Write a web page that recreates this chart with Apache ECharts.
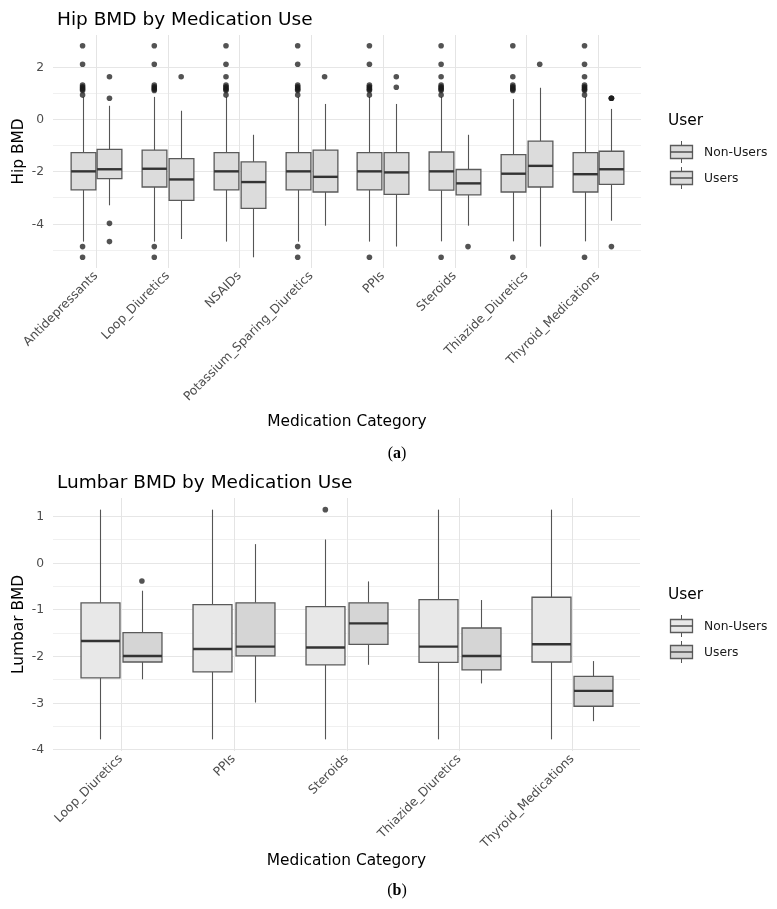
<!DOCTYPE html>
<html>
<head>
<meta charset="utf-8">
<script src="https://cdn.jsdelivr.net/npm/echarts@6/dist/echarts.min.js"></script>
<style>
html,body{margin:0;padding:0;background:#fff;}
#chart{width:777px;height:909px;}
</style>
</head>
<body>
<div id="chart"></div>
<script>
// ---------- DATA ----------
const hipCategories = ['Antidepressants','Loop_Diuretics','NSAIDs','Potassium_Sparing_Diuretics','PPIs','Steroids','Thiazide_Diuretics','Thyroid_Medications'];
// [lower whisker, Q1, median, Q3, upper whisker]
const hipNonUsers = [
  [-4.69, -2.71, -2.00, -1.28, 0.85],
  [-4.69, -2.60, -1.90, -1.19, 0.85],
  [-4.69, -2.71, -2.00, -1.28, 0.85],
  [-4.69, -2.71, -2.00, -1.28, 0.85],
  [-4.69, -2.71, -2.00, -1.28, 0.85],
  [-4.68, -2.72, -2.00, -1.26, 0.85],
  [-4.68, -2.79, -2.09, -1.36, 0.77],
  [-4.68, -2.79, -2.11, -1.28, 0.85]
];
const hipUsers = [
  [-3.30, -2.28, -1.92, -1.16, 0.51],
  [-4.59, -3.11, -2.31, -1.51, 0.32],
  [-5.29, -3.42, -2.41, -1.64, -0.60],
  [-4.08, -2.79, -2.21, -1.19, 0.58],
  [-4.88, -2.88, -2.04, -1.28, 0.58],
  [-4.08, -2.90, -2.46, -1.93, -0.60],
  [-4.88, -2.60, -1.79, -0.84, 1.20],
  [-3.89, -2.50, -1.92, -1.23, 0.39]
];
const hipNonUsersOutliers = [
  [2.81, 2.10, 1.30, 1.24, 1.19, 1.14, 1.10, 0.92, -4.88, -5.29],
  [2.81, 2.10, 1.30, 1.24, 1.19, 1.14, 1.10, -4.88, -5.29],
  [2.81, 2.10, 1.62, 1.30, 1.24, 1.19, 1.14, 1.10, 0.92],
  [2.81, 2.10, 1.30, 1.24, 1.19, 1.14, 1.10, 0.92, -4.88, -5.29],
  [2.81, 2.10, 1.30, 1.24, 1.19, 1.14, 1.10, 0.92, -5.29],
  [2.81, 2.10, 1.62, 1.30, 1.24, 1.19, 1.14, 1.10, 0.92, -5.29],
  [2.81, 1.62, 1.30, 1.24, 1.19, 1.14, 1.10, -5.29],
  [2.81, 2.10, 1.62, 1.30, 1.24, 1.19, 1.14, 1.10, 0.92, -5.29]
];
const hipUsersOutliers = [
  [1.62, 0.80, -3.99, -4.69],
  [1.62],
  [],
  [1.62],
  [1.62, 1.22],
  [-4.88],
  [2.10],
  [0.80, 0.80, 0.80, -4.88]
];
const hipMajorTicks = [-4, -2, 0, 2];
const hipMinorTicks = [-5, -3, -1, 1];

const lumbarCategories = ['Loop_Diuretics','PPIs','Steroids','Thiazide_Diuretics','Thyroid_Medications'];
const lumbarNonUsers = [
  [-3.79, -2.47, -1.68, -0.86, 1.14],
  [-3.79, -2.34, -1.85, -0.90, 1.14],
  [-3.79, -2.19, -1.82, -0.94, 0.50],
  [-3.79, -2.14, -1.80, -0.79, 1.14],
  [-3.79, -2.13, -1.75, -0.74, 1.14]
];
const lumbarUsers = [
  [-2.50, -2.13, -2.00, -1.50, -0.60],
  [-3.00, -2.00, -1.80, -0.86, 0.40],
  [-2.19, -1.75, -1.30, -0.86, -0.40],
  [-2.59, -2.30, -2.00, -1.40, -0.80],
  [-3.40, -3.08, -2.75, -2.44, -2.11]
];
const lumbarNonUsersOutliers = [[], [], [1.14], [], []];
const lumbarUsersOutliers = [[-0.39], [], [], [], []];
const lumbarMajorTicks = [-4, -3, -2, -1, 0, 1];
const lumbarMinorTicks = [-3.5, -2.5, -1.5, -0.5, 0.5];

const groupNames = ['Non-Users', 'Users'];

// ---------- STYLE ----------
const FONT = '"DejaVu Sans", "Liberation Sans", sans-serif';
const EXPAND = 0.6;            // ggplot discrete expansion (in category units)
const DODGE = 0.1875;          // box centre offset (category units)
const BOXW = 0.345;            // box width (category units)
const hipFill = ['#dcdcdc', '#dcdcdc'];
const lumbarFill = ['#e8e8e8', '#d5d5d5'];

const panels = [
  {left: 53, top: 35, width: 588, height: 233, cats: hipCategories},
  {left: 53, top: 498, width: 587, height: 253, cats: lumbarCategories}
];
function gridFor(p) {
  const band = p.width / (p.cats.length - 1 + 2 * EXPAND);
  return {left: p.left + (EXPAND - 0.5) * band, top: p.top, width: band * p.cats.length, height: p.height};
}

const crisp = v => Math.round(v) + 0.5;

function gridSeries(idx, major, minor, cats) {
  const hData = major.map(v => [0, v, 1]).concat(minor.map(v => [0, v, 0]));
  const vData = cats.map((c, i) => [i, 0]);
  return [{
    type: 'custom', xAxisIndex: idx, yAxisIndex: idx, silent: true, clip: false, z: 0,
    data: hData, encode: {x: 0, y: 1},
    renderItem: function (params, api) {
      const cs = params.coordSys;
      const band = api.size([1, 0])[0];
      const extra = (EXPAND - 0.5) * band;
      const y = crisp(api.coord([0, api.value(1)])[1]);
      const isMajor = api.value(2) === 1;
      const children = [{
        type: 'line',
        shape: {x1: cs.x - extra, y1: y, x2: cs.x + cs.width + extra, y2: y},
        style: {stroke: isMajor ? '#e6e6e6' : '#f0f0f0', lineWidth: 1}
      }];
      if (isMajor) {
        children.push({
          type: 'text', x: cs.x - extra - 9, y: y,
          style: {text: String(api.value(1)), fill: '#4d4d4d', font: '12.3px ' + FONT, align: 'right', verticalAlign: 'middle'}
        });
      }
      return {type: 'group', children: children};
    }
  }, {
    type: 'custom', xAxisIndex: idx, yAxisIndex: idx, silent: true, clip: false, z: 0,
    data: vData, encode: {x: 0, y: 1},
    renderItem: function (params, api) {
      const cs = params.coordSys;
      const x = crisp(api.coord([api.value(0), 0])[0]);
      return {type: 'line', shape: {x1: x, y1: cs.y, x2: x, y2: cs.y + cs.height},
        style: {stroke: '#e4e4e4', lineWidth: 1}};
    }
  }];
}

function boxSeries(idx, name, stats, offset, fill) {
  return {
    type: 'custom', name: name, xAxisIndex: idx, yAxisIndex: idx, z: 2,
    data: stats.map((s, i) => [i].concat(s)),
    encode: {x: 0, y: [1, 2, 3, 4, 5]},
    renderItem: function (params, api) {
      const cat = api.value(0);
      const band = api.size([1, 0])[0];
      const cx = crisp(api.coord([cat, 0])[0] + offset * band);
      const w = BOXW * band;
      const y = k => api.coord([cat, api.value(k)])[1];
      const yMin = y(1), yQ1 = y(2), yMed = y(3), yQ3 = y(4), yMax = y(5);
      return {type: 'group', children: [
        {type: 'line', shape: {x1: cx, y1: yMax, x2: cx, y2: yQ3}, style: {stroke: '#555', lineWidth: 1.1}},
        {type: 'line', shape: {x1: cx, y1: yQ1, x2: cx, y2: yMin}, style: {stroke: '#555', lineWidth: 1.1}},
        {type: 'rect', shape: {x: cx - w / 2, y: yQ3, width: w, height: yQ1 - yQ3},
          style: {fill: fill, stroke: '#5a5a5a', lineWidth: 1.3}},
        {type: 'line', shape: {x1: cx - w / 2, y1: yMed, x2: cx + w / 2, y2: yMed},
          style: {stroke: '#333', lineWidth: 2.4}}
      ]};
    }
  };
}

function outlierSeries(idx, name, outs, offset) {
  const data = [];
  outs.forEach((arr, i) => arr.forEach(v => data.push([i, v])));
  return {
    type: 'custom', name: name + ' outliers', xAxisIndex: idx, yAxisIndex: idx, z: 3,
    data: data, encode: {x: 0, y: 1},
    renderItem: function (params, api) {
      const cat = api.value(0);
      const band = api.size([1, 0])[0];
      const p = api.coord([cat, api.value(1)]);
      return {type: 'circle', shape: {cx: p[0] + offset * band, cy: p[1], r: 2.8},
        style: {fill: 'rgba(25,25,25,0.75)'}};
    }
  };
}

function legendGraphic(top, fills) {
  const els = [{type: 'text', left: 668, top: top - 9,
    style: {text: 'User', fill: '#000', font: '15.4px ' + FONT}}];
  groupNames.forEach((nm, i) => {
    const cy = top + 30 + i * 26;
    els.push({type: 'line', shape: {x1: 681.5, y1: cy - 11, x2: 681.5, y2: cy + 11}, style: {stroke: '#555', lineWidth: 1}});
    els.push({type: 'rect', shape: {x: 670.5, y: cy - 6.5, width: 22, height: 13}, style: {fill: fills[i], stroke: '#5a5a5a', lineWidth: 1.3}});
    els.push({type: 'line', shape: {x1: 670.5, y1: cy, x2: 692.5, y2: cy}, style: {stroke: '#444', lineWidth: 1.4}});
    els.push({type: 'text', x: 704, y: cy + 0.5,
      style: {text: nm, fill: '#1a1a1a', font: '12.3px ' + FONT, verticalAlign: 'middle'}});
  });
  return els;
}

const g0 = gridFor(panels[0]);
const g1 = gridFor(panels[1]);

const xAxisCommon = {
  type: 'category', axisLine: {show: false}, axisTick: {show: false}, splitLine: {show: false},
  nameLocation: 'middle', nameTextStyle: {color: '#000', fontSize: 15.4, fontFamily: FONT},
  axisLabel: {rotate: 45, interval: 0, margin: 6, color: '#4d4d4d', fontSize: 12.3, fontFamily: FONT}
};
const yAxisCommon = {
  type: 'value', axisLine: {show: false}, axisTick: {show: false}, splitLine: {show: false},
  axisLabel: {show: false}, nameLocation: 'middle', nameTextStyle: {color: '#000', fontSize: 15.4, fontFamily: FONT}
};

const option = {
  backgroundColor: '#fff',
  animation: false,
  title: [
    {text: 'Hip BMD by Medication Use', left: 52, top: 6, textStyle: {fontSize: 18.5, fontWeight: 'normal', color: '#000', fontFamily: FONT}},
    {text: 'Lumbar BMD by Medication Use', left: 52, top: 469, textStyle: {fontSize: 18.5, fontWeight: 'normal', color: '#000', fontFamily: FONT}}
  ],
  grid: [
    {left: g0.left, top: g0.top, width: g0.width, height: g0.height},
    {left: g1.left, top: g1.top, width: g1.width, height: g1.height}
  ],
  xAxis: [
    Object.assign({}, xAxisCommon, {gridIndex: 0, data: hipCategories, name: 'Medication Category', nameGap: 146}),
    Object.assign({}, xAxisCommon, {gridIndex: 1, data: lumbarCategories, name: 'Medication Category', nameGap: 101})
  ],
  yAxis: [
    Object.assign({}, yAxisCommon, {gridIndex: 0, min: -5.70, max: 3.22, name: 'Hip BMD', nameGap: 34}),
    Object.assign({}, yAxisCommon, {gridIndex: 1, min: -4.04, max: 1.39, name: 'Lumbar BMD', nameGap: 38})
  ],
  series: [].concat(
    gridSeries(0, hipMajorTicks, hipMinorTicks, hipCategories),
    gridSeries(1, lumbarMajorTicks, lumbarMinorTicks, lumbarCategories),
    [
      boxSeries(0, groupNames[0], hipNonUsers, -DODGE, hipFill[0]),
      boxSeries(0, groupNames[1], hipUsers, DODGE, hipFill[1]),
      outlierSeries(0, groupNames[0], hipNonUsersOutliers, -DODGE),
      outlierSeries(0, groupNames[1], hipUsersOutliers, DODGE),
      boxSeries(1, groupNames[0], lumbarNonUsers, -DODGE, lumbarFill[0]),
      boxSeries(1, groupNames[1], lumbarUsers, DODGE, lumbarFill[1]),
      outlierSeries(1, groupNames[0], lumbarNonUsersOutliers, -DODGE),
      outlierSeries(1, groupNames[1], lumbarUsersOutliers, DODGE)
    ]
  ),
  graphic: [].concat(
    legendGraphic(122, hipFill),
    legendGraphic(596, lumbarFill),
    [
      {type: 'text', x: 397, y: 454, style: {text: '{p|(}{b|a}{p|)}', align: 'center', verticalAlign: 'middle',
        rich: {p: {font: '16px "Liberation Serif", serif', fill: '#000'}, b: {font: 'bold 16px "Liberation Serif", serif', fill: '#000'}}}},
      {type: 'text', x: 397, y: 891, style: {text: '{p|(}{b|b}{p|)}', align: 'center', verticalAlign: 'middle',
        rich: {p: {font: '16px "Liberation Serif", serif', fill: '#000'}, b: {font: 'bold 16px "Liberation Serif", serif', fill: '#000'}}}}
    ]
  )
};

const chart = echarts.init(document.getElementById('chart'), null, {renderer: 'canvas'});
chart.setOption(option);
</script>
</body>
</html>
